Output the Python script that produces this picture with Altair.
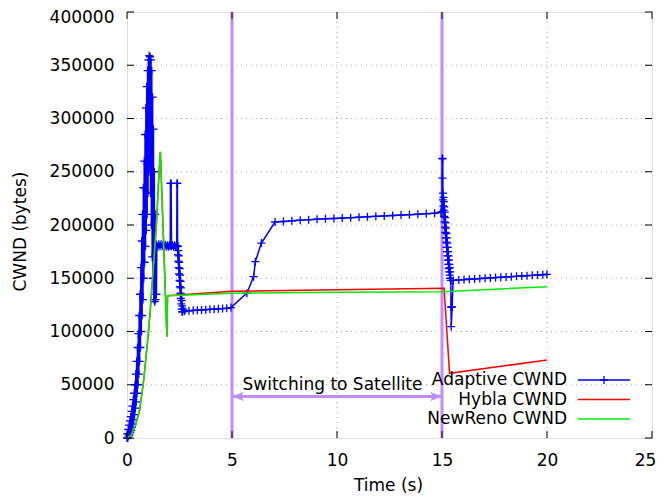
import altair as alt
import pandas as pd

# ---------------- data (time s, CWND bytes) ----------------
ad_slowstart = [(0.00, 0), (0.02, 4000), (0.04, 0), (0.06, 8000), (0.08, 2000), (0.10, 12000),
                (0.12, 3000), (0.14, 16000), (0.16, 5000), (0.18, 20000), (0.20, 7000),
                (0.22, 25000), (0.24, 10000), (0.26, 30000), (0.28, 13000), (0.30, 36000),
                (0.32, 17000), (0.34, 42000), (0.36, 22000), (0.38, 50000), (0.40, 28000),
                (0.42, 60000), (0.44, 34000), (0.46, 72000), (0.48, 42000), (0.50, 85000),
                (0.52, 50000), (0.54, 98000), (0.56, 60000), (0.58, 115000), (0.60, 72000),
                (0.62, 135000), (0.64, 85000), (0.66, 160000), (0.68, 100000), (0.70, 185000),
                (0.72, 115000), (0.74, 210000), (0.76, 130000), (0.78, 235000), (0.80, 150000),
                (0.82, 260000), (0.84, 165000), (0.86, 285000), (0.88, 180000), (0.90, 310000),
                (0.92, 195000), (0.94, 330000), (0.96, 210000), (0.98, 345000), (1.00, 230000),
                (1.02, 355000), (1.04, 250000), (1.06, 359000), (1.08, 260000), (1.10, 358000),
                (1.12, 230000), (1.14, 355000), (1.16, 200000), (1.18, 345000), (1.20, 170000),
                (1.22, 320000), (1.24, 150000), (1.26, 290000), (1.28, 130000), (1.30, 250000),
                (1.32, 128000), (1.34, 210000), (1.36, 130000), (1.38, 182000), (1.40, 135000),
                (1.42, 181000)]
ad_plateau = [(1.47, 179500), (1.52, 182000), (1.57, 180000), (1.62, 182000), (1.67, 180000),
              (1.72, 181500), (1.77, 179500), (1.82, 181500), (1.87, 179500), (1.92, 181000),
              (1.97, 179500), (2.02, 181000), (2.06, 180500), (2.07, 239000), (2.10, 239000),
              (2.12, 180000), (2.17, 181000), (2.22, 179500), (2.27, 181000), (2.32, 179500),
              (2.37, 180500), (2.38, 239000), (2.40, 239000), (2.41, 180000), (2.42, 172000),
              (2.43, 180000), (2.44, 166000), (2.45, 176000), (2.46, 160000), (2.47, 171000),
              (2.48, 154000), (2.49, 165000), (2.50, 148000), (2.51, 159000), (2.52, 142000),
              (2.53, 153000), (2.54, 136000), (2.55, 147000), (2.56, 131000), (2.57, 141000),
              (2.58, 126000), (2.59, 135000), (2.60, 121000), (2.61, 129000), (2.62, 118500),
              (2.63, 124000), (2.65, 118500), (2.68, 121000)]
ad_wifi = [(2.75, 119000), (2.95, 119500), (3.15, 119800), (3.35, 120000), (3.55, 120300),
           (3.75, 120500), (3.95, 120800), (4.15, 121000), (4.35, 121300), (4.55, 121500),
           (4.75, 121800), (4.95, 122500)]
ad_climb = [(5.71, 136000), (6.03, 151500), (6.11, 165600), (6.40, 183000), (7.05, 202800)]
ad_sat = [(7.45, 203300), (7.85, 203900), (8.25, 204500), (8.65, 205000), (9.05, 205400),
          (9.45, 205800), (9.85, 206100), (10.25, 206500), (10.65, 206900), (11.05, 207300),
          (11.45, 207700), (11.85, 208100), (12.25, 208500), (12.65, 208900), (13.05, 209300),
          (13.45, 209700), (13.85, 210100), (14.25, 210600), (14.65, 211100), (14.95, 212000)]
ad_switch = [(15.00, 212500), (15.01, 262600), (15.02, 244000), (15.03, 262000), (15.04, 223500),
             (15.05, 230000), (15.06, 218000), (15.07, 226000), (15.08, 214000), (15.09, 222000),
             (15.10, 208000), (15.11, 217000), (15.12, 203000), (15.13, 212000), (15.14, 198000),
             (15.15, 207000), (15.16, 193000), (15.17, 202000), (15.18, 188000), (15.19, 197000),
             (15.20, 184000), (15.21, 192000), (15.22, 179000), (15.23, 188000), (15.24, 175000),
             (15.25, 183000), (15.26, 171000), (15.27, 179000), (15.28, 167000), (15.29, 175000),
             (15.30, 163000), (15.31, 171000), (15.32, 159000), (15.33, 167000), (15.34, 156000),
             (15.35, 163000), (15.36, 153000), (15.37, 160000), (15.38, 150000), (15.40, 156000),
             (15.42, 148000), (15.43, 123000), (15.44, 104500), (15.48, 123000), (15.53, 148000)]
ad_after = [(15.80, 148400), (16.05, 148800), (16.30, 149100), (16.55, 149400), (16.80, 149700),
            (17.05, 150000), (17.30, 150300), (17.55, 150600), (17.80, 150900), (18.05, 151200),
            (18.30, 151500), (18.55, 151800), (18.80, 152100), (19.05, 152400), (19.30, 152700),
            (19.55, 153000), (19.80, 153300), (20.00, 153700)]

hybla = [(0.00, 0), (0.20, 2500), (0.40, 12000), (0.60, 26000), (0.80, 55000), (1.00, 95000),
         (1.10, 118000), (1.20, 145000), (1.30, 172000), (1.40, 200000), (1.50, 240000),
         (1.59, 268800), (1.90, 95000), (1.93, 133600), (5.00, 137700), (10.00, 139300),
         (15.10, 140500), (15.36, 60700), (20.00, 73200)]
newreno = [(0.00, 0), (0.20, 2500), (0.40, 12000), (0.60, 26000), (0.80, 55000), (1.00, 95000),
           (1.10, 118000), (1.20, 145000), (1.30, 172000), (1.40, 200000), (1.50, 240000),
           (1.59, 268800), (1.90, 95000), (1.93, 133600), (5.00, 136000), (10.00, 136800),
           (15.00, 137400), (20.00, 142100)]

x_ticks = [0, 5, 10, 15, 20, 25]
y_ticks = [0, 50000, 100000, 150000, 200000, 250000, 300000, 350000, 400000]
x_grid = [5, 10, 15, 20]
y_grid = [50000, 100000, 150000, 200000, 250000, 300000, 350000]
switch_times = [5, 15]
arrow_start, arrow_end, arrow_level = 5, 15, 39000
label_t, label_v = 5.5, 50000
label_text = "Switching to Satellite"
legend_labels = ["Adaptive CWND", "Hybla CWND", "NewReno CWND"]


def frame(pairs):
    return pd.DataFrame({"i": range(len(pairs)),
                         "t": [p[0] for p in pairs],
                         "v": [p[1] for p in pairs]})


adaptive = ad_slowstart + ad_plateau + ad_wifi + ad_climb + ad_sat + ad_switch + ad_after

# ---------------- styling ----------------
W, H = 525, 426
FONT = "DejaVu Sans"
FS = 17
BLUE, RED, GREEN, PURPLE = "#0000ff", "#ff0000", "#00ee00", "#c08cff"
PLUS = "M-1,0L1,0M0,-1L0,1"

xs = alt.Scale(domain=[0, 25], nice=False, zero=False)
ys = alt.Scale(domain=[0, 400000], nice=False)

x_axis = alt.Axis(values=x_ticks, title="Time (s)", grid=False, ticks=False, domain=False,
                  labelFlush=False, labelFont=FONT, labelFontSize=FS, labelColor="black",
                  labelPadding=14,
                  labelOffset=alt.condition("datum.value == 25", alt.value(-7), alt.value(0)),
                  titleFont=FONT, titleFontSize=FS, titleFontWeight="normal", titleColor="black",
                  titleX=261, titleY=52, titleBaseline="alphabetic", titleAlign="center")
y_axis = alt.Axis(values=y_ticks, format="d", title="CWND (bytes)", grid=False, ticks=False,
                  domain=False, labelFlush=False, labelFont=FONT, labelFontSize=FS,
                  labelColor="black", labelPadding=13,
                  labelOffset=alt.condition("datum.value == 400000", alt.value(5), alt.value(0)),
                  titleFont=FONT, titleFontSize=FS, titleFontWeight="normal",
                  titleColor="black", titleAngle=270, titleX=-107, titleY=219,
                  titleBaseline="middle", titleAlign="center")


def X(f):
    return alt.X(f, type="quantitative", scale=xs, axis=x_axis)


def Y(f):
    return alt.Y(f, type="quantitative", scale=ys, axis=y_axis)


# grid
gx = alt.Chart(pd.DataFrame({"t": x_grid})).mark_rule(
    color="#a8a8a8", strokeDash=[1, 4], strokeWidth=1).encode(x=X("t"))
gy = alt.Chart(pd.DataFrame({"v": y_grid})).mark_rule(
    color="#a8a8a8", strokeDash=[1, 4], strokeWidth=1).encode(y=Y("v"))

# purple switch lines
sw = alt.Chart(pd.DataFrame({"t": switch_times})).mark_rule(
    color=PURPLE, strokeWidth=3).encode(x=X("t"))

arrow_df = pd.DataFrame({"t1": [arrow_start], "t2": [arrow_end], "v": [arrow_level]})
arrow = alt.Chart(arrow_df).mark_rule(color=PURPLE, strokeWidth=3).encode(
    x=X("t1"), x2="t2", y=Y("v"))
headL = alt.Chart(arrow_df).mark_point(
    shape="M0,0L2,-0.8L1.5,0L2,0.8Z", filled=True, color=PURPLE, size=144, opacity=1).encode(
    x=X("t1"), y=Y("v"))
headR = alt.Chart(arrow_df).mark_point(
    shape="M0,0L-2,-0.8L-1.5,0L-2,0.8Z", filled=True, color=PURPLE, size=144, opacity=1).encode(
    x=X("t2"), y=Y("v"))
label = alt.Chart(pd.DataFrame({"t": [label_t], "v": [label_v], "s": [label_text]})).mark_text(
    font=FONT, fontSize=FS, align="left", baseline="middle", color="black").encode(
    x=X("t"), y=Y("v"), text="s:N")

ad_df = frame(adaptive)
ad_line = alt.Chart(ad_df).mark_line(color=BLUE, strokeWidth=1.5).encode(
    x=X("t"), y=Y("v"), order="i:Q")
ad_pts = alt.Chart(ad_df).mark_point(shape=PLUS, size=64, color=BLUE, filled=False,
                                     strokeWidth=1.3, opacity=1).encode(x=X("t"), y=Y("v"))
hy_line = alt.Chart(frame(hybla)).mark_line(color=RED, strokeWidth=1.5).encode(
    x=X("t"), y=Y("v"), order="i:Q")
nr_line = alt.Chart(frame(newreno)).mark_line(color=GREEN, strokeWidth=1.5).encode(
    x=X("t"), y=Y("v"), order="i:Q")

# inside ticks (gnuplot style, mirrored)
xt_df = pd.DataFrame({"t": x_ticks})
yt_df = pd.DataFrame({"v": y_ticks})
tb = alt.Chart(xt_df).mark_rule(color="black", strokeWidth=1).encode(
    x=X("t"), y=alt.value(H), y2=alt.value(H - 7))
tt = alt.Chart(xt_df).mark_rule(color="black", strokeWidth=1).encode(
    x=X("t"), y=alt.value(0), y2=alt.value(7))
tl = alt.Chart(yt_df).mark_rule(color="black", strokeWidth=1).encode(
    y=Y("v"), x=alt.value(0), x2=alt.value(7))
tr = alt.Chart(yt_df).mark_rule(color="black", strokeWidth=1).encode(
    y=Y("v"), x=alt.value(W), x2=alt.value(W - 7))

# legend (gnuplot style: text then sample)
leg_layers = []
leg_colors = [BLUE, RED, GREEN]
leg_y = [368, 387.5, 407]
for lab, col, yy in zip(legend_labels, leg_colors, leg_y):
    d = pd.DataFrame({"s": [lab]})
    leg_layers.append(alt.Chart(d).mark_text(font=FONT, fontSize=FS, align="right",
                                             baseline="middle", color="black").encode(
        x=alt.value(440), y=alt.value(yy), text="s:N"))
    leg_layers.append(alt.Chart(d).mark_rule(color=col, strokeWidth=1.5).encode(
        x=alt.value(451), x2=alt.value(503), y=alt.value(yy)))
leg_layers.append(alt.Chart(pd.DataFrame({"s": [legend_labels[0]]})).mark_point(
    shape=PLUS, size=64, color=BLUE, filled=False, strokeWidth=1.3, opacity=1).encode(
    x=alt.value(477), y=alt.value(leg_y[0])))

chart = alt.layer(gx, gy, sw, arrow, headL, headR, label, ad_line, ad_pts, hy_line, nr_line,
                  tb, tt, tl, tr, *leg_layers).properties(
    width=W, height=H,
    autosize=alt.AutoSizeParams(type="none"),
    padding={"left": 119, "top": 4, "right": 4, "bottom": 56},
).configure_view(stroke="black", strokeWidth=1.5).configure(background="white")

chart.save("out.html", embed_options={"renderer": "svg", "actions": False})
